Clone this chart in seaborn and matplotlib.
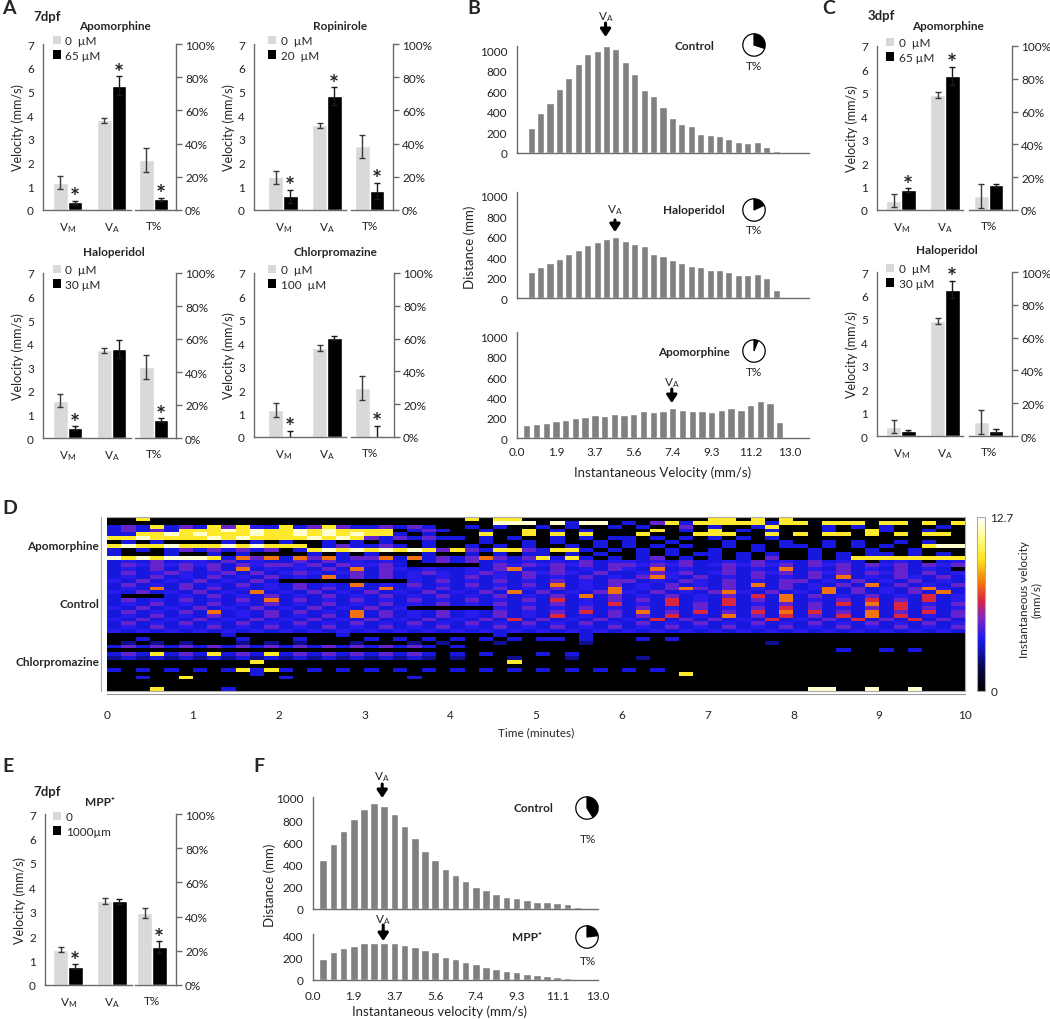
import numpy as np
import pandas as pd
import matplotlib
matplotlib.use('Agg')
import matplotlib.pyplot as plt
import seaborn as sns
from matplotlib.colors import LinearSegmentedColormap
from matplotlib.patches import Patch

W, H = 1050, 1020

# ---------------- bar panels (A, C, E) ----------------
# values: [V_M (mm/s), V_A (mm/s), T% (percent)]
a_apo_ctrl, a_apo_ctrl_err = [1.15, 3.78, 30.0], [0.28, 0.12, 7.2]
a_apo_drug, a_apo_drug_err = [0.33, 5.25, 6.4], [0.07, 0.38, 1.0]
a_apo_star = [True, True, True]

a_rop_ctrl, a_rop_ctrl_err = [1.38, 3.57, 38.3], [0.28, 0.10, 6.7]
a_rop_drug, a_rop_drug_err = [0.58, 4.80, 11.4], [0.27, 0.37, 5.0]
a_rop_star = [True, True, True]

a_hal_ctrl, a_hal_ctrl_err = [1.58, 3.72, 43.0], [0.28, 0.10, 7.1]
a_hal_drug, a_hal_drug_err = [0.42, 3.78, 11.0], [0.07, 0.38, 1.0]
a_hal_star = [True, False, True]

a_chl_ctrl, a_chl_ctrl_err = [1.15, 3.80, 30.0], [0.30, 0.13, 7.3]
a_chl_drug, a_chl_drug_err = [0.05, 4.23, 0.7], [0.22, 0.10, 6.0]
a_chl_star = [True, False, True]

c_apo_ctrl, c_apo_ctrl_err = [0.40, 4.90, 8.6], [0.28, 0.12, 7.1]
c_apo_drug, c_apo_drug_err = [0.85, 5.72, 15.0], [0.07, 0.38, 1.0]
c_apo_star = [True, True, False]

c_hal_ctrl, c_hal_ctrl_err = [0.40, 4.90, 8.6], [0.28, 0.12, 7.1]
c_hal_drug, c_hal_drug_err = [0.20, 6.25, 3.0], [0.05, 0.38, 1.0]
c_hal_star = [False, True, False]

e_mpp_ctrl, e_mpp_ctrl_err = [1.45, 3.43, 42.1], [0.10, 0.12, 3.0]
e_mpp_drug, e_mpp_drug_err = [0.75, 3.42, 22.1], [0.10, 0.10, 3.5]
e_mpp_star = [True, False, True]

velocity_ticks = [0, 1, 2, 3, 4, 5, 6, 7]
percent_ticks = [0, 20, 40, 60, 80, 100]

# ---------------- histograms (B, F) ----------------
b_control = [240, 385, 485, 620, 730, 865, 960, 995, 1035, 1010, 880, 765, 610, 550,
             445, 340, 280, 260, 185, 170, 165, 135, 105, 100, 105, 60, 20]
b_halo = [250, 305, 345, 385, 435, 475, 515, 550, 575, 595, 560, 530, 510, 435,
          415, 370, 340, 315, 305, 270, 275, 250, 230, 225, 240, 195, 75, 5]
b_apo = [130, 135, 150, 165, 180, 195, 210, 225, 215, 240, 230, 240, 270, 260,
         270, 300, 275, 270, 270, 255, 275, 300, 280, 325, 365, 350, 155, 10]
b_pie = [0.30, 0.18, 0.06]
b_va_bin = [8.9, 9.9, 15.9]
velocity_labels = ['0.0', '1.9', '3.7', '5.6', '7.4', '9.3', '11.2', '13.0']

f_control = [445, 585, 700, 815, 905, 955, 925, 855, 750, 640, 525, 445, 360,
             310, 250, 200, 175, 135, 110, 95, 80, 65, 60, 55, 45, 15]
f_mpp = [185, 250, 290, 305, 335, 335, 335, 330, 315, 295, 270, 250, 210,
         190, 160, 140, 115, 95, 80, 75, 55, 45, 40, 30, 15, 5]
f_pie = [0.41, 0.23]
f_va_bin = [6.8, 6.9]
f_velocity_labels = ['0.0', '1.9', '3.7', '5.6', '7.4', '9.3', '11.1', '13.0']

# ---------------- heatmap (D) ----------------
# each digit = 10 s of one larva; 0 = still ... 9 = fastest
apo_rows = [
    "008000 000000 000000 000000 080880 000000 000000 880808 000000 000000",
    "000000 000000 000000 000000 000999 093990 305838 888838 808880 880808",
    "353835 385843 835853 353530 030300 303003 030050 300380 003030 300030",
    "353538 889898 898988 880353 003008 030300 008030 803030 003008 300300",
    "338898 988898 898989 883030 008008 080800 080008 880080 808808 080880",
    "889888 898988 889898 535353 303030 030303 303030 303030 000000 000000",
    "030300 003030 300303 030030 003003 030030 300300 030003 003030 030300",
    "898898 889898 880353 353030 030303 003030 303030 030303 303030 300899",
    "303035 353535 038989 898985 853885 388303 030300 300300 030003 003000",
    "300030 030300 003030 300030 030303 303030 030303 303030 030303 303030",
    "989899 983757 375735 573735 357535 838303 035030 303050 030388 888888",
    "343534 435343 353534 343035 353434 343534 434353 343534 353430 343034",
    "354545 453545 545354 453000 003545 454535 545453 454545 354535 453545",
    "343535 353734 343537 354343 343573 353435 437343 353437 343534 353430",
    "353454 345353 454345 353454 345435 454353 345453 453545 354535 453534",
]
ctrl_rows = [
    "343534 353435 343735 353434 353435 343534 357435 343534 353734 354353",
    "435343 534353 000000 000435 343534 353435 534354 353435 534353 435343",
    "353435 343534 353437 343534 353435 373435 343534 353735 343537 353435",
    "343735 353434 353534 373435 343534 353437 343575 353435 347353 435743",
    "435343 534373 435343 534353 435373 534357 435343 574353 437353 435373",
    "300034 353435 343534 353435 343534 353735 343534 353637 353435 343634",
    "353435 343537 353435 343534 353435 363435 353634 363537 343536 353634",
    "343534 353435 343534 353435 343534 353436 343635 363435 353637 363435",
    "435343 534353 435343 534000 000435 343534 353435 343536 353435 363534",
    "353435 373435 353437 353435 343534 353635 373536 353637 363537 353635",
    "343534 353435 343537 353435 343534 363435 353634 373536 353637 363435",
    "435343 534353 435343 534353 435363 534353 436353 534363 435363 536353",
    "353435 343534 353435 343534 353435 343534 353435 343534 353435 343534",
    "343534 353435 343534 353435 343534 353435 343534 353435 343534 353435",
    "434343 434343 434343 434343 434343 434343 434343 434343 434343 434343",
]
chl_rows = [
    "000000 003000 000030 000000 000300 000300 000000 000000 000000 000000",
    "003000 000300 030000 303030 303030 330300 030300 000000 000000 000000",
    "020202 000202 020002 000202 000200 000200 000000 000020 000000 000000",
    "353535 353535 353535 353530 300000 000000 000000 000000 000000 000000",
    "000000 000000 000000 000000 000000 000000 000000 000000 000300 303000",
    "353835 383538 353535 353530 303000 303000 000000 000000 000000 000000",
    "232323 232323 232323 232320 200020 002000 020000 000000 000000 000000",
    "000000 000080 000000 000000 000080 000000 000000 000000 000000 000000",
    "000000 000000 000000 000000 000000 000000 000000 000000 000000 000000",
    "303030 303838 303030 303030 303030 303030 303000 000000 000000 000000",
    "000000 000030 000000 000000 000000 000000 000080 000000 000000 000000",
    "003008 000000 300000 000300 000000 000000 000000 000000 000000 000000",
    "000000 000000 000000 000000 000000 000000 000000 000000 000000 000000",
    "000000 000000 000000 000000 000000 000000 000000 000000 000000 000000",
    "000800 003000 000000 000000 000000 000000 000000 000000 099009 009000",
]
digit_level = [0, 0.1, 0.2, 0.28, 0.32, 0.39, 0.52, 0.62, 0.78, 0.95]
group_names = ['Apomorphine', 'Control', 'Chlorpromazine']
vmax = 12.7

LIGHT = '#d9d9d9'
HISTGRAY = '#808080'
SPINE = '#6b6b6b'

sns.set_style('white')
plt.rcParams['font.family'] = ['Lato', 'DejaVu Sans']
plt.rcParams['mathtext.fontset'] = 'custom'
plt.rcParams['mathtext.rm'] = 'Lato'
plt.rcParams['mathtext.default'] = 'regular'
plt.rcParams['xtick.color'] = '#222222'
plt.rcParams['ytick.color'] = '#222222'

fig = plt.figure(figsize=(W / 100, H / 100), dpi=100)


def px_axes(x0, y0, x1, y1):
    return fig.add_axes([x0 / W, 1 - y1 / H, (x1 - x0) / W, (y1 - y0) / H])


def ftext(x, y, s, **kw):
    kw.setdefault('ha', 'center')
    kw.setdefault('va', 'center')
    fig.text(x / W, 1 - y / H, s, **kw)


def style(ax, sides):
    for k, sp in ax.spines.items():
        sp.set_visible(k in sides)
        sp.set_color(SPINE)
        sp.set_linewidth(1)


def bar_panel(geom, title, title_xy, doses, ctrl, ctrl_err, drug, drug_err, stars, leg_dy=-9):
    sl, vm, gl, gr, tc, sr, yz, y7 = geom
    s = 44.0
    ax1 = px_axes(sl, y7, gl, yz)
    ax2 = px_axes(gr, y7, sr, yz)
    d1 = pd.DataFrame({'measure': ['VM', 'VM', 'VA', 'VA'],
                       'group': ['ctrl', 'drug', 'ctrl', 'drug'],
                       'value': [ctrl[0], drug[0], ctrl[1], drug[1]]})
    d2 = pd.DataFrame({'measure': ['T', 'T'], 'group': ['ctrl', 'drug'],
                       'value': [ctrl[2], drug[2]]})
    for ax, d, order in [(ax1, d1, ['VM', 'VA']), (ax2, d2, ['T'])]:
        sns.barplot(data=d, x='measure', y='value', hue='group', order=order,
                    hue_order=['ctrl', 'drug'], palette=[LIGHT, 'black'],
                    width=0.66, saturation=1, ax=ax, legend=False, errorbar=None)
        ax.set_xlabel('')
        ax.set_ylabel('')
    off = 0.165
    ax1.errorbar([-off, 1 - off], ctrl[:2], yerr=ctrl_err[:2], fmt='none',
                 ecolor='#3a3a3a', elinewidth=1, capsize=2.5)
    ax1.errorbar([off, 1 + off], drug[:2], yerr=drug_err[:2], fmt='none',
                 ecolor='#1a1a1a', elinewidth=1, capsize=2.5)
    ax2.errorbar([-off], ctrl[2:], yerr=ctrl_err[2:], fmt='none',
                 ecolor='#3a3a3a', elinewidth=1, capsize=2.5)
    ax2.errorbar([off], drug[2:], yerr=drug_err[2:], fmt='none',
                 ecolor='#1a1a1a', elinewidth=1, capsize=2.5)
    for i in range(3):
        if not stars[i]:
            continue
        ax = ax1 if i < 2 else ax2
        xpos = (i if i < 2 else 0) + off
        ax.annotate('*', xy=(xpos, drug[i] + drug_err[i]), xytext=(0, -6),
                    textcoords='offset points', ha='center', va='bottom',
                    fontsize=17, fontweight='bold', annotation_clip=False)
    ax1.set_xlim((sl - vm) / s, (gl - vm) / s)
    ax2.set_xlim((gr - tc) / s, (sr - tc) / s)
    ax1.set_ylim(0, 7)
    ax2.set_ylim(0, 100)
    style(ax1, ['left', 'bottom'])
    style(ax2, ['right', 'bottom'])
    ax1.set_yticks(velocity_ticks)
    ax1.set_xticks([0, 1])
    ax1.set_xticklabels(['V$_{M}$', 'V$_{A}$'])
    ax2.set_xticks([0])
    ax2.set_xticklabels(['T%'])
    ax2.yaxis.tick_right()
    ax2.set_yticks(percent_ticks)
    ax2.set_yticklabels([f'{p}%' for p in percent_ticks])
    for ax in (ax1, ax2):
        ax.tick_params(axis='x', length=0, pad=7, labelsize=8.5)
        ax.tick_params(axis='y', length=4, width=1, color=SPINE, labelsize=8.5, pad=2.5)
    ax1.set_ylabel('Velocity (mm/s)', fontsize=9, labelpad=2)
    handles = [Patch(facecolor=LIGHT, edgecolor='none'), Patch(facecolor='black', edgecolor='none')]
    fig.legend(handles, doses, loc='upper left',
               bbox_to_anchor=((vm - 15) / W, 1 - (y7 + leg_dy) / H),
               frameon=False, fontsize=8.5, handlelength=0.7, handleheight=0.7,
               handletextpad=0.4, labelspacing=0.3, borderpad=0, borderaxespad=0)
    ftext(title_xy[0], title_xy[1], title, fontsize=8.5, fontweight='bold')


bar_panel((43, 67.5, 131, 135, 153.5, 176, 211, 45), 'Apomorphine', (115, 26),
          ['0  µM', '65 µM'], a_apo_ctrl, a_apo_ctrl_err, a_apo_drug, a_apo_drug_err, a_apo_star)
bar_panel((254, 283, 346, 351, 369.5, 393, 211, 45), 'Ropinirole', (340, 26),
          ['0  µM', '20  µM'], a_rop_ctrl, a_rop_ctrl_err, a_rop_drug, a_rop_drug_err, a_rop_star)
bar_panel((43, 67.5, 131, 135, 153.5, 176, 439, 274), 'Haloperidol', (114, 253),
          ['0  µM', '30 µM'], a_hal_ctrl, a_hal_ctrl_err, a_hal_drug, a_hal_drug_err, a_hal_star)
bar_panel((254, 283, 346, 351, 369.5, 394, 438, 274), 'Chlorpromazine', (335, 253),
          ['0  µM', '100  µM'], a_chl_ctrl, a_chl_ctrl_err, a_chl_drug, a_chl_drug_err, a_chl_star)
bar_panel((877, 901, 963, 969, 988.5, 1012, 211, 47), 'Apomorphine', (948, 26),
          ['0  µM', '65 µM'], c_apo_ctrl, c_apo_ctrl_err, c_apo_drug, c_apo_drug_err, c_apo_star)
bar_panel((877, 901, 963, 969, 988.5, 1012, 437, 273), 'Haloperidol', (947, 251),
          ['0  µM', '30 µM'], c_hal_ctrl, c_hal_ctrl_err, c_hal_drug, c_hal_drug_err, c_hal_star)
bar_panel((45, 68, 132, 135, 152, 176, 986, 815), 'MPP\u207a', (100, 803),
          ['0', '1000µm'], e_mpp_ctrl, e_mpp_ctrl_err, e_mpp_drug, e_mpp_drug_err, e_mpp_star,
          leg_dy=-3)


# ---------------- histograms ----------------
def hist_panel(box, vals, xlim, ymax, yticks, tick_pos, tick_labels):
    ax = px_axes(*box)
    pos = np.arange(1, len(vals) + 1)
    sns.barplot(x=pos, y=vals, native_scale=True, color=HISTGRAY, width=0.75,
                saturation=1, ax=ax, errorbar=None)
    ax.set_xlim(*xlim)
    ax.set_ylim(0, ymax)
    style(ax, ['left', 'bottom'])
    ax.set_yticks(yticks)
    ax.set_xticks(tick_pos)
    if tick_labels is None:
        ax.set_xticklabels([])
    else:
        ax.set_xticklabels(tick_labels)
    ax.tick_params(axis='both', length=4, width=1, color=SPINE, labelsize=8.5, pad=3)
    return ax


def va_arrow(ax, xbin, y_label, y_tail, y_tip):
    ax.annotate('', xy=(xbin, 1 - y_tip / H), xytext=(xbin, 1 - y_tail / H),
                xycoords=('data', 'figure fraction'), textcoords=('data', 'figure fraction'),
                arrowprops=dict(arrowstyle='-|>,head_length=0.45,head_width=0.3',
                                color='black', lw=2.2, shrinkA=0, shrinkB=0),
                annotation_clip=False)
    ax.annotate('V$_{A}$', xy=(xbin, 1 - y_label / H), xycoords=('data', 'figure fraction'),
                ha='center', va='center', fontsize=8.5, annotation_clip=False)


def pie(cx, cy, frac):
    ax = px_axes(cx - 14, cy - 14, cx + 14, cy + 14)
    ax.pie([frac, 1 - frac], colors=['black', 'white'], startangle=90, counterclock=False,
           wedgeprops=dict(edgecolor='black', linewidth=0.9))
    ax.set_aspect('equal')


top_ticks = np.arange(-0.5, 31, 5)
bot_ticks = np.arange(0, 29, 4)
ax_bc = hist_panel((517, 47, 809, 154), b_control, (-0.5, 30.5), 1039,
                   [0, 200, 400, 600, 800, 1000], top_ticks, None)
ax_bh = hist_panel((517, 193, 809, 299), b_halo, (-0.5, 30.5), 1039,
                   [0, 200, 400, 600, 800, 1000], top_ticks, None)
ax_ba = hist_panel((517, 333, 809, 439), b_apo, (0, 30), 1046,
                   [0, 200, 400, 600, 800, 1000], bot_ticks, velocity_labels)
ax_ba.tick_params(axis='x', length=0, pad=6)
va_arrow(ax_bc, b_va_bin[0], 17, 24, 38)
va_arrow(ax_bh, b_va_bin[1], 210, 221, 233)
va_arrow(ax_ba, b_va_bin[2], 383, 390, 404)
for (cy, name, frac) in zip([46, 211, 352], ['Control', 'Haloperidol', 'Apomorphine'], b_pie):
    pie(754, cy, frac)
    ftext(694, cy, name, fontsize=8.5, fontweight='bold')
    ftext(754, cy + 20, 'T%', fontsize=8.5)
ftext(663, 473, 'Instantaneous Velocity (mm/s)', fontsize=9.5)
ftext(470, 247, 'Distance (mm)', fontsize=9.5, rotation=90)

ax_fc = hist_panel((313, 798, 598, 910), f_control, (0, 28), 1009,
                   [0, 200, 400, 600, 800, 1000], bot_ticks, None)
ax_fm = hist_panel((313, 935, 598, 981), f_mpp, (0, 28), 414,
                   [0, 200, 400], bot_ticks, f_velocity_labels)
va_arrow(ax_fc, f_va_bin[0], 777, 785, 799)
va_arrow(ax_fm, f_va_bin[1], 920, 926, 942)
pie(587, 809, f_pie[0])
pie(587, 938, f_pie[1])
ftext(533, 809, 'Control', fontsize=8.5, fontweight='bold')
ftext(527, 938, 'MPP\u207a', fontsize=8.5, fontweight='bold')
ftext(588, 840, 'T%', fontsize=8.5)
ftext(588, 962, 'T%', fontsize=8.5)
ftext(440, 1012, 'Instantaneous velocity (mm/s)', fontsize=9.5)
ftext(270, 885, 'Distance (mm)', fontsize=9.5, rotation=90)

# ---------------- heatmap ----------------
rows = apo_rows + ctrl_rows + chl_rows
grid = []
for r in rows:
    r = r.replace(' ', '').ljust(60, '0')[:60]
    grid.append([digit_level[int(c)] * vmax for c in r])
grid = np.array(grid)

cmap = LinearSegmentedColormap.from_list('speed', [
    (0.0, (0, 0, 0)), (0.12, (0.02, 0.02, 0.25)), (0.3, (0.1, 0.1, 0.95)),
    (0.42, (0.5, 0.15, 0.75)), (0.52, (0.85, 0.15, 0.25)), (0.62, (0.95, 0.45, 0.05)),
    (0.76, (1.0, 0.9, 0.1)), (0.9, (1.0, 1.0, 0.6)), (1.0, (1, 1, 1))])

axh = px_axes(107, 518, 965, 692)
cax = px_axes(977, 518, 985, 692)
sns.heatmap(grid, cmap=cmap, vmin=0, vmax=vmax, ax=axh, cbar_ax=cax,
            xticklabels=False, yticklabels=False)
n = len(rows)
axh.set_yticks([0, 15, 30, n])
axh.set_yticklabels([])
axh.tick_params(axis='y', length=3, color='#999999')
for k, sp in axh.spines.items():
    sp.set_visible(True)
    sp.set_color('#aaaaaa')
    sp.set_linewidth(0.8)
axh.spines['left'].set_position(('outward', 4))
for (yc, name) in zip([546, 604, 662], group_names):
    ftext(99, yc, name, ha='right', fontsize=8.5, fontweight='bold')

cbar = axh.collections[0].colorbar
cbar.set_ticks([0, vmax])
cbar.set_ticklabels(['0', '12.7'])
cax.tick_params(length=0, labelsize=8.5, pad=4)
cbar.outline.set_edgecolor('#aaaaaa')
cbar.outline.set_linewidth(0.8)
ftext(1030, 600, 'Instantaneous velocity\n(mm/s)', fontsize=8.5, rotation=90, linespacing=1.1)

tax = px_axes(107, 694, 965, 695)
tax.set_xlim(0, 10)
tax.set_yticks([])
for k, sp in tax.spines.items():
    sp.set_visible(k == 'bottom')
    sp.set_color('#999999')
tax.set_xticks(range(11))
tax.set_xticks(np.arange(0, 10.01, 0.1), minor=True)
tax.tick_params(axis='x', which='major', length=5, color='#999999', labelsize=8.5, pad=6)
tax.tick_params(axis='x', which='minor', length=4, color='#aaaaaa')
ftext(536, 733, 'Time (minutes)', fontsize=8.5)

# ---------------- panel letters ----------------
for (x, y, s) in [(2, 9, 'A'), (467, 9, 'B'), (822, 9, 'C'), (2, 508, 'D'), (2, 767, 'E'), (253, 767, 'F')]:
    ftext(x, y, s, fontsize=14, fontweight='bold', ha='left')
ftext(33, 17, '7dpf', fontsize=9.5, fontweight='bold', ha='left')
ftext(868, 16, '3dpf', fontsize=9.5, fontweight='bold', ha='left')
ftext(33, 792, '7dpf', fontsize=9.5, fontweight='bold', ha='left')

fig.savefig('out.png', dpi=100)
